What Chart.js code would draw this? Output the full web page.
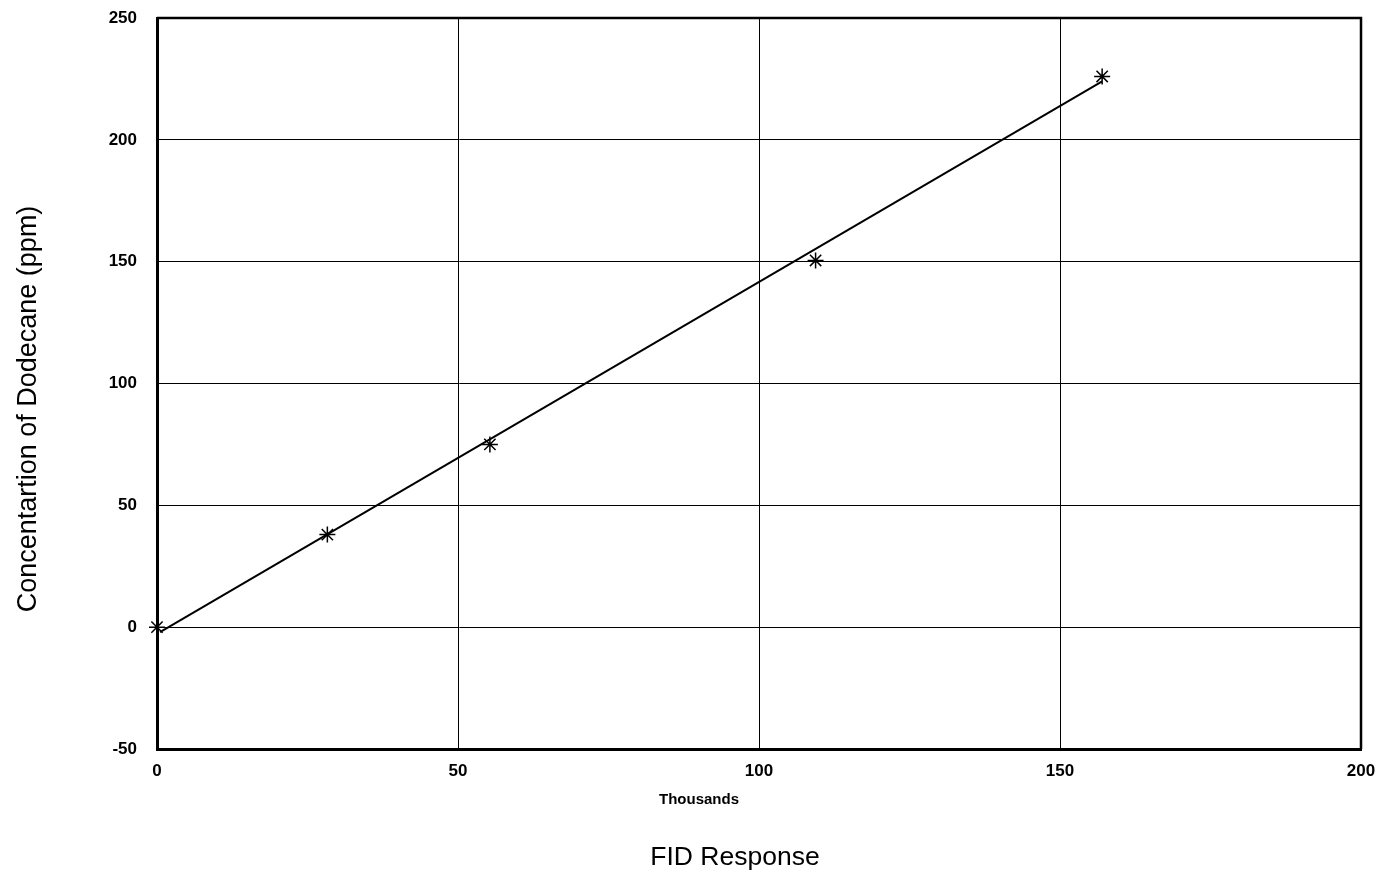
<!DOCTYPE html>
<html>
<head>
<meta charset="utf-8">
<script src="https://cdn.jsdelivr.net/npm/chart.js@4"></script>
<style>
  html, body { margin: 0; padding: 0; background: #fff; }
  #wrap { width: 1382px; height: 874px; }
</style>
</head>
<body>
<div id="wrap"><canvas id="fidChart" width="1382" height="874"></canvas></div>
<script>
// ------------------------------
//  Data
// ------------------------------
const fidThousands = [0, 28.3, 55.3, 109.4, 157.0];
const dodecanePpm = [0, 38, 75, 150.5, 226];

// fitted calibration line, endpoints
const fitX = [0.5, 157.0];
const fitY = [-2, 224];

const xTicks = [0, 50, 100, 150, 200];
const yTicks = [-50, 0, 50, 100, 150, 200, 250];

const FONT = "'Liberation Sans', Arial, sans-serif";

// ------------------------------
//  Extra drawing: frame and the axis texts
// ------------------------------
const framePlugin = {
  id: "frame",
  afterDraw(chart) {
    const { ctx, chartArea: a } = chart;
    ctx.save();
    ctx.strokeStyle = "#000";
    ctx.lineWidth = 2.5;
    ctx.beginPath();
    ctx.moveTo(a.left, a.top);
    ctx.lineTo(a.right, a.top);
    ctx.lineTo(a.right, a.bottom);
    ctx.stroke();

    ctx.fillStyle = "#000";
    ctx.textAlign = "center";
    ctx.textBaseline = "middle";
    ctx.font = "bold 15px " + FONT;
    ctx.fillText("Thousands", 699, a.bottom + 51);
    ctx.font = "26.5px " + FONT;
    ctx.fillText("FID Response", 735, 858);

    ctx.font = "27px " + FONT;
    ctx.translate(29, 409);
    ctx.rotate(-Math.PI / 2);
    ctx.fillText("Concentartion of Dodecane (ppm)", 0, 0);
    ctx.restore();
  }
};

const ctx = document.getElementById("fidChart").getContext("2d");

new Chart(ctx, {
  type: "scatter",
  data: {
    datasets: [
      {
        label: "Fit",
        data: fitX.map((x, i) => ({ x, y: fitY[i] })),
        showLine: true,
        borderColor: "#000",
        borderWidth: 2,
        pointRadius: 0,
        fill: false
      },
      {
        label: "Dodecane",
        data: fidThousands.map((x, i) => ({ x, y: dodecanePpm[i] })),
        showLine: false,
        clip: false,
        pointStyle: "star",
        pointRadius: 8,
        borderColor: "#000",
        backgroundColor: "#000",
        borderWidth: 1.5
      }
    ]
  },
  options: {
    responsive: false,
    animation: false,
    layout: { padding: { top: 18, right: 21, bottom: 0, left: 0 } },
    plugins: {
      legend: { display: false },
      tooltip: { enabled: false }
    },
    scales: {
      x: {
        type: "linear",
        min: 0,
        max: 200,
        afterBuildTicks: s => { s.ticks = xTicks.map(v => ({ value: v })); },
        afterFit: s => { s.height = 125; s.paddingLeft = 0; s.paddingRight = 0; },
        grid: { color: "#000", lineWidth: 1, drawTicks: false },
        border: { display: true, color: "#000", width: 3 },
        ticks: {
          color: "#000",
          padding: 12,
          font: { family: FONT, size: 17, weight: "bold" }
        }
      },
      y: {
        type: "linear",
        min: -50,
        max: 250,
        afterBuildTicks: s => { s.ticks = yTicks.map(v => ({ value: v })); },
        afterFit: s => { s.width = 157; s.paddingTop = 0; s.paddingBottom = 0; },
        grid: { color: "#000", lineWidth: 1, drawTicks: false },
        border: { display: true, color: "#000", width: 3 },
        ticks: {
          color: "#000",
          padding: 20,
          font: { family: FONT, size: 17, weight: "bold" }
        }
      }
    }
  },
  plugins: [framePlugin]
});
</script>
</body>
</html>
